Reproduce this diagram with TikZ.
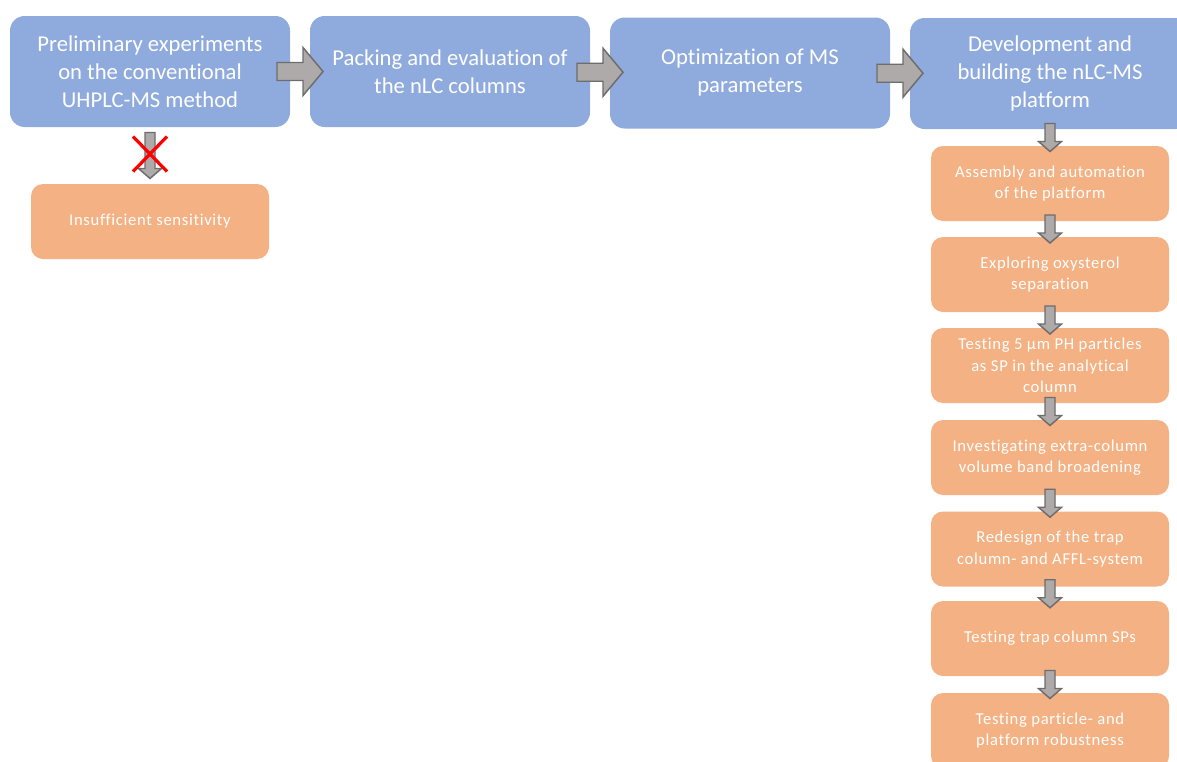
\documentclass[tikz,border=0pt]{standalone}
\usepackage{fontspec}
\setmainfont[Ligatures=NoCommon]{Carlito}
\newfontfamily\orangefont[LetterSpace=4,Ligatures=NoCommon]{Carlito}
\usetikzlibrary{calc}
\definecolor{boxblue}{RGB}{143,170,220}
\definecolor{boxorange}{RGB}{244,177,131}
\definecolor{arrfill}{RGB}{174,170,170}
\definecolor{arrline}{RGB}{110,108,108}
\tikzset{
  bluebox/.style={fill=boxblue, draw=none, rounded corners=11pt, minimum width=210pt, minimum height=83.25pt, align=center, text=white, font=\fontsize{17pt}{21pt}\selectfont, inner sep=0pt},
  orangebox/.style={fill=boxorange, draw=none, rounded corners=9pt, minimum width=178.5pt, minimum height=56.25pt, align=center, text=white, font=\orangefont\fontsize{12.5pt}{16pt}\selectfont, inner sep=0pt},
  arrowstyle/.style={fill=arrfill, draw=arrline, line width=1.1pt, line join=miter},
  rarrow/.pic={\draw[arrowstyle] (-23,-9) -- (3,-9) -- (3,-24) -- (23,0) -- (3,24) -- (3,9) -- (-23,9) -- cycle;},
  darrow/.pic={\draw[arrowstyle] (-5,-14) -- (5,-14) -- (5,4) -- (11.5,4) -- (0,14) -- (-11.5,4) -- (-5,4) -- cycle;},
  longdarrow/.pic={\draw[arrowstyle] (-5,-23) -- (5,-23) -- (5,13) -- (11.5,13) -- (0,23) -- (-11.5,13) -- (-5,13) -- cycle;},
}
\begin{document}
\begin{tikzpicture}[x=0.75pt, y=-0.75pt]
\useasboundingbox (0,0) rectangle (1177,761);
\clip (0,0) rectangle (1177,761);
% top row
\node[bluebox] (b1) at (150,71.5) {Preliminary experiments\\on the conventional\\UHPLC-MS method};
\node[bluebox] (b2) at (450,71.5) {Packing and evaluation of\\the nLC columns};
\node[bluebox] (b3) at (750,73) {Optimization of MS\\parameters};
\node[bluebox] (b4) at (1050,73.5) {Development and\\building the nLC-MS\\platform};
% left branch
\node[orangebox] (o0) at (150,221.5) {Insufficient sensitivity};
% right column
\node[orangebox] (o1) at (1050,183.5) {Assembly and automation\\of the platform};
\node[orangebox] (o2) at (1050,274.5) {Exploring oxysterol\\separation};
\node[orangebox] (o3) at (1050,365.5) {Testing 5 μm PH particles\\as SP in the analytical\\column};
\node[orangebox] (o4) at (1050,457.5) {Investigating extra-column\\volume band broadening};
\node[orangebox] (o5) at (1050,549) {Redesign of the trap\\column- and AFFL-system};
\node[orangebox] (o6) at (1050,638.5) {Testing trap column SPs};
\node[orangebox] (o7) at (1050,730.5) {Testing particle- and\\platform robustness};
% horizontal arrows
\pic at ($(b1.east)!0.5!(b2.west)$) {rarrow};
\pic at ($(b2.east)!0.5!(b3.west)$) {rarrow};
\pic at ($(b3.east)!0.5!(b4.west)$) {rarrow};
% vertical arrows
\pic at ($(b4.south)!0.5!(o1.north)$) {darrow};
\pic at ($(o1.south)!0.5!(o2.north)$) {darrow};
\pic at ($(o2.south)!0.5!(o3.north)$) {darrow};
\pic at ($(o3.south)!0.5!(o4.north)$) {darrow};
\pic at ($(o4.south)!0.5!(o5.north)$) {darrow};
\pic at ($(o5.south)!0.5!(o6.north)$) {darrow};
\pic at ($(o6.south)!0.5!(o7.north)$) {darrow};
% blocked arrow
\coordinate (xc) at ($(b1.south)!0.5!(o0.north)$);
\pic at (xc) {longdarrow};
\draw[red, line width=2.4pt] ($(xc)+(-17,-19)$) -- ($(xc)+(17,16)$);
\draw[red, line width=2.4pt] ($(xc)+(17,-19)$) -- ($(xc)+(-17,16)$);
\end{tikzpicture}
\end{document}
